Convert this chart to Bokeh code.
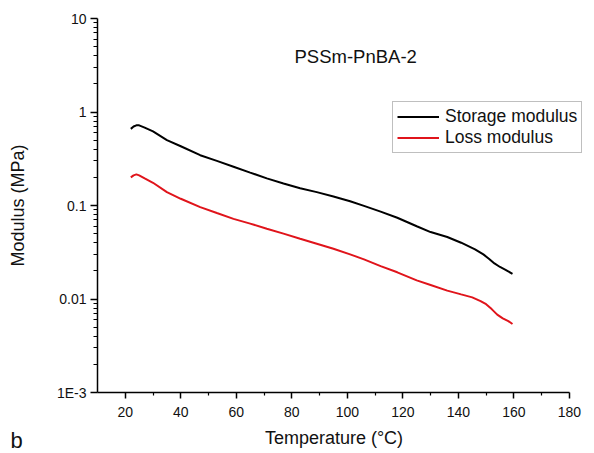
from bokeh.plotting import figure
from bokeh.models import (FixedTicker, CustomJSTickFormatter, Legend, LegendItem,
                          Label, Range1d, Title)
from bokeh.embed import file_html
from bokeh.resources import INLINE

# ---- data ----
temp_storage = [22, 23, 24, 25, 27, 30, 35, 40, 47, 53, 59, 65, 71, 77, 83, 89, 95,
                101, 106, 112, 118, 125, 130, 136, 141, 146, 149, 151, 153, 155, 157, 159.5]
storage_modulus = [0.66, 0.70, 0.72, 0.72, 0.68, 0.62, 0.50, 0.43, 0.345, 0.30, 0.26,
                   0.225, 0.195, 0.172, 0.153, 0.139, 0.125, 0.111, 0.099, 0.086, 0.074,
                   0.060, 0.052, 0.046, 0.040, 0.034, 0.030, 0.027, 0.024, 0.022, 0.0205,
                   0.0186]
temp_loss = [22, 23, 24, 25, 27, 30, 35, 40, 47, 53, 59, 65, 71, 77, 83, 89, 95, 101,
             106, 112, 118, 125, 130, 136, 141, 145, 148, 150, 152, 154, 156, 158, 159.5]
loss_modulus = [0.20, 0.21, 0.215, 0.21, 0.195, 0.175, 0.139, 0.118, 0.096, 0.083, 0.072,
                0.064, 0.0565, 0.050, 0.0441, 0.039, 0.0345, 0.030, 0.0265, 0.0225,
                0.0193, 0.0158, 0.0141, 0.0123, 0.0112, 0.0104, 0.0095, 0.0088, 0.0078,
                0.0068, 0.0062, 0.0058, 0.0054]
x_ticks = [20, 40, 60, 80, 100, 120, 140, 160, 180]
x_minor = [30, 50, 70, 90, 110, 130, 150, 170]
y_ticks = [0.001, 0.01, 0.1, 1, 10]
series_names = ["Storage modulus", "Loss modulus"]
series_colors = ["#000000", "#e0141b"]
title_text = "PSSm-PnBA-2"
x_label = "Temperature (°C)"
y_label = "Modulus (MPa)"
panel_letter = "b"

FONT = "Liberation Sans"

# frame extends a little past 180 so the legend can overhang the axis end
p = figure(width=594, height=453, output_backend="svg", toolbar_location=None,
           y_axis_type="log", x_range=Range1d(10, 185.8), y_range=Range1d(0.001, 10),
           min_border_left=97, min_border_right=9, min_border_top=18, min_border_bottom=61)
p.outline_line_color = None
p.grid.visible = False
p.background_fill_color = "white"
p.border_fill_color = "white"

r1 = p.line(temp_storage, storage_modulus, line_color=series_colors[0], line_width=2)
r2 = p.line(temp_loss, loss_modulus, line_color=series_colors[1], line_width=2)
d1 = p.scatter(x=[], y=[], size=4, color=series_colors[0])
d2 = p.scatter(x=[], y=[], size=4, color=series_colors[1])

# axes
xa = p.xaxis[0]
ya = p.yaxis[0]
minor_y = [m * 10.0 ** e for e in range(-3, 1) for m in range(2, 10)]
ya.ticker = FixedTicker(ticks=y_ticks, minor_ticks=minor_y)
ya.formatter = CustomJSTickFormatter(code="""
    if (tick >= 1) return tick.toFixed(0);
    if (tick > 0.005) return String(tick);
    return '1E-3';
""")
xa.ticker = FixedTicker(ticks=x_ticks, minor_ticks=x_minor)
xa.bounds = (10, 180)

for ax in (xa, ya):
    ax.axis_line_color = "black"
    ax.axis_line_width = 1.5
    ax.major_tick_line_color = "black"
    ax.minor_tick_line_color = "black"
    ax.major_tick_line_width = 1.5
    ax.minor_tick_line_width = 1.2
    ax.major_tick_in = 0
    ax.minor_tick_in = 0
    ax.major_label_text_font = FONT
    ax.major_label_text_font_size = "14px"
    ax.major_label_text_color = "#111111"
    ax.axis_label_text_font = FONT
    ax.axis_label_text_font_size = "18px"
    ax.axis_label_text_font_style = "normal"
    ax.axis_label_text_color = "#111111"

ya.major_tick_out = 7
ya.minor_tick_out = 4
ya.major_label_standoff = 4
ya.axis_label = y_label
ya.axis_label_standoff = 26

xa.major_tick_out = 6
xa.minor_tick_out = 3
xa.major_label_standoff = 8
# trailing no-break spaces centre the label on the 10-180 axis rather than the wider frame
xa.axis_label = x_label + "\u00a0" * 3
xa.axis_label_standoff = 8

# title inside plot
p.add_layout(Label(x=103, y=3.95, text=title_text, text_font=FONT, text_font_size="18.5px",
                   text_align="center", text_baseline="middle", text_color="#111111"))

# panel letter, in the bottom panel (outside the clipped frame)
p.add_layout(Title(text=panel_letter, align="left", vertical_align="top", offset=-87,
                   standoff=-46, text_font=FONT, text_font_size="22px",
                   text_font_style="normal", text_color="#111111"), "below")

legend = Legend(items=[LegendItem(label=series_names[0], renderers=[r1, d1]),
                       LegendItem(label=series_names[1], renderers=[r2, d2])],
                location=(295, 239))
legend.label_text_font = FONT
legend.label_text_font_size = "17.5px"
legend.label_text_line_height = 1.0
legend.label_text_color = "#111111"
legend.glyph_width = 42
legend.glyph_height = 17
legend.label_height = 17
legend.label_standoff = 6
legend.padding = 4
legend.spacing = 0
legend.margin = 0
legend.border_line_color = "#7f7f7f"
legend.border_line_width = 1
legend.background_fill_alpha = 1
p.add_layout(legend, "center")

open("out.html", "w").write(file_html(p, INLINE))
